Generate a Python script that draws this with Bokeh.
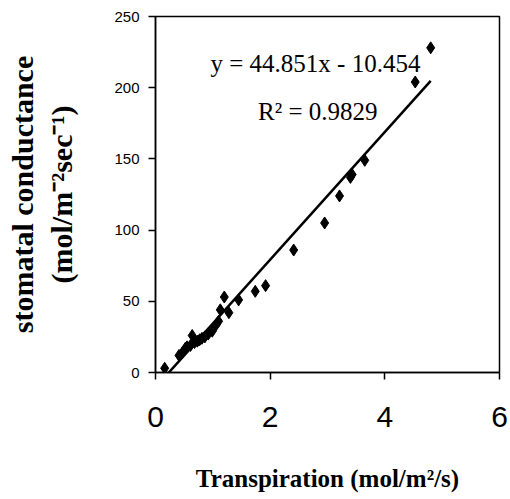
from bokeh.plotting import figure
from bokeh.models import Label, FixedTicker, Range1d
from bokeh.embed import file_html
from bokeh.resources import INLINE

# Data
transpiration = [0.16, 0.41, 0.47, 0.52, 0.55, 0.61, 0.64, 0.68, 0.73, 0.77, 0.81,
                 0.86, 0.92, 0.99, 1.05, 1.10, 1.13, 1.20, 1.28, 1.45, 1.74, 1.92,
                 2.41, 2.95, 3.21, 3.40, 3.43, 3.65, 4.53, 4.80]
conductance = [3, 12, 14, 17, 18, 19, 26, 21, 22, 23, 24,
               25, 27, 29, 33, 36, 44, 53, 42, 51, 57, 61,
               86, 105, 124, 137, 139, 149, 204, 228]

slope = 44.851
intercept = -10.454
eq_text = "y = 44.851x - 10.454"
r2_text = "R² = 0.9829"

x_ticks = [0, 2, 4, 6]
y_ticks = [0, 50, 100, 150, 200, 250]

p = figure(width=510, height=499, output_backend="svg", toolbar_location=None,
           x_range=Range1d(0, 6), y_range=Range1d(0, 250),
           min_border_left=155, min_border_right=11, min_border_top=16, min_border_bottom=127)
p.background_fill_color = "white"
p.border_fill_color = "white"
p.outline_line_color = "black"
p.outline_line_width = 1.5
p.grid.visible = False

# trendline
x0, x1 = min(transpiration), max(transpiration)
p.line([x0, x1], [slope * x0 + intercept, slope * x1 + intercept], line_color="black", line_width=2.5)

p.scatter(transpiration, conductance, marker="diamond", size=12, fill_color="black",
          line_color="black", line_width=1)

p.add_layout(Label(x=2.79, y=217, text=eq_text, text_align="center", text_baseline="alphabetic",
                   text_font="Liberation Serif", text_font_size="25px", text_color="black"))
p.add_layout(Label(x=2.83, y=183, text=r2_text, text_align="center", text_baseline="alphabetic",
                   text_font="Liberation Serif", text_font_size="25px", text_color="black"))

xa = p.xaxis[0]
xa.ticker = FixedTicker(ticks=x_ticks)
xa.minor_tick_line_color = None
xa.major_tick_out = 7
xa.major_tick_in = 0
xa.axis_line_width = 1.5
xa.major_tick_line_width = 1.5
xa.major_label_text_font = "Liberation Sans"
xa.major_label_text_font_size = "30px"
xa.major_label_text_color = "black"
xa.major_label_standoff = 27
xa.axis_label = "Transpiration (mol/m²/s)"
xa.axis_label_text_font = "Liberation Serif"
xa.axis_label_text_font_style = "bold"
xa.axis_label_text_font_size = "25px"
xa.axis_label_text_color = "black"
xa.axis_label_standoff = 35

ya = p.yaxis[0]
ya.ticker = FixedTicker(ticks=y_ticks)
ya.minor_tick_line_color = None
ya.major_tick_out = 7
ya.major_tick_in = 0
ya.axis_line_width = 1.5
ya.major_tick_line_width = 1.5
ya.major_label_text_font = "Liberation Sans"
ya.major_label_text_font_size = "15px"
ya.major_label_text_color = "black"
ya.major_label_standoff = 9
ya.axis_label = "stomatal conductance\n(mol/m⁻²sec⁻¹)"
ya.axis_label_text_font = "Liberation Serif"
ya.axis_label_text_font_style = "bold"
ya.axis_label_text_font_size = "30px"
ya.axis_label_text_color = "black"
ya.axis_label_standoff = 33

open("out.html", "w").write(file_html(p, INLINE))
